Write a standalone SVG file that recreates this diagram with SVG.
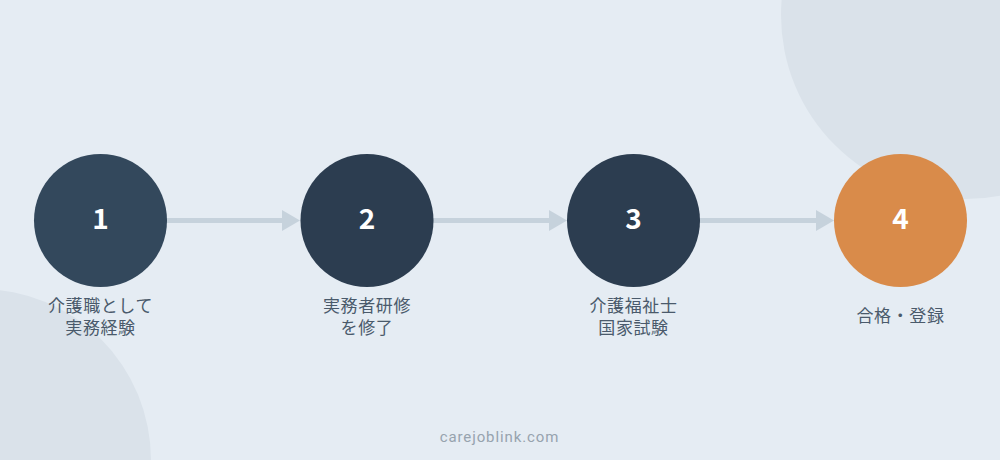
<svg xmlns="http://www.w3.org/2000/svg" width="1000" height="460" viewBox="0 0 1000 460">
<defs>
<style>
.num{font-family:"Noto Sans CJK JP","Noto Sans",sans-serif;font-weight:700;font-size:28px;fill:#ffffff;text-anchor:middle}
.lbl{font-family:"Noto Sans CJK JP","Noto Sans",sans-serif;font-size:17px;fill:#4a5a6b;text-anchor:middle;letter-spacing:0.6px}
.conn line{stroke:#c6d2dc;stroke-width:5}
.conn polygon{fill:#c6d2dc}
</style>
</defs>
<rect x="0" y="0" width="1000" height="460" fill="#e5ecf3"/>
<circle cx="965" cy="15" r="184" fill="#dae2ea"/>
<circle cx="-20" cy="460" r="171" fill="#dae2ea"/>
<g id="connectors" class="conn">
<line x1="166" y1="220.5" x2="284" y2="220.5"/>
<polygon points="282,210 300,220.5 282,231"/>
<line x1="432" y1="220.5" x2="551" y2="220.5"/>
<polygon points="549,210 567,220.5 549,231"/>
<line x1="699" y1="220.5" x2="818" y2="220.5"/>
<polygon points="816,210 834,220.5 816,231"/>
</g>
<g id="node1">
<circle cx="100.5" cy="220.5" r="66.5" fill="#33485c"/>
<text class="num" x="100.5" y="228.5">1</text>
<text class="lbl" x="100.5" y="311.5">介護職として</text>
<text class="lbl" x="100.5" y="333.5">実務経験</text>
</g>
<g id="node2">
<circle cx="367" cy="220.5" r="66.5" fill="#2c3d50"/>
<text class="num" x="367" y="228.5">2</text>
<text class="lbl" x="367" y="311.5">実務者研修</text>
<text class="lbl" x="367" y="333.5">を修了</text>
</g>
<g id="node3">
<circle cx="633.5" cy="220.5" r="66.5" fill="#2c3d50"/>
<text class="num" x="633.5" y="228.5">3</text>
<text class="lbl" x="633.5" y="311.5">介護福祉士</text>
<text class="lbl" x="633.5" y="333.5">国家試験</text>
</g>
<g id="node4">
<circle cx="900.5" cy="220.5" r="66.5" fill="#d98b4a"/>
<text class="num" x="900.5" y="228.5">4</text>
<text class="lbl" x="900.5" y="322">合格・登録</text>
</g>
<text x="499.5" y="441.5" font-family="Roboto,'Liberation Sans',sans-serif" font-size="15" fill="#97a3ae" text-anchor="middle" letter-spacing="0.9">carejoblink.com</text>
</svg>
